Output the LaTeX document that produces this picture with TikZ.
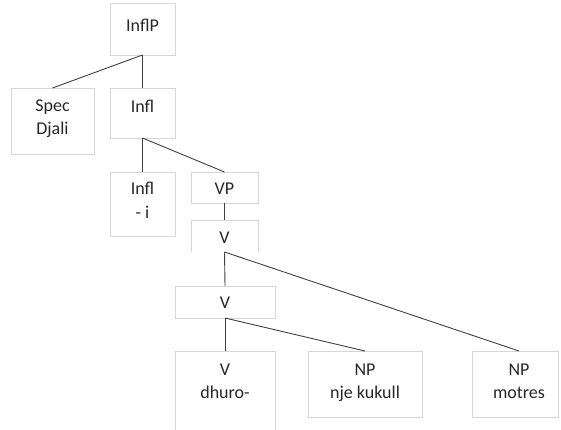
\documentclass[tikz,border=0pt]{standalone}
\usepackage{fontspec}
\setmainfont{Carlito}
\definecolor{boxgray}{HTML}{D6D6D6}
\definecolor{linegray}{HTML}{404040}
\definecolor{txt}{HTML}{262626}
\begin{document}
\begin{tikzpicture}[x=1pt,y=-1pt,
  treebox/.style={draw=boxgray,line width=0.8pt,anchor=north west,inner sep=0pt,outer sep=0pt},
  lbl/.style={anchor=base,align=center,inner sep=0pt,text=txt,font=\fontsize{18}{23}\selectfont},
  edge/.style={draw=linegray,line width=0.9pt}]
\useasboundingbox (0,0) rectangle (561,430);
% boxes
\node[treebox,minimum width=65pt,minimum height=52pt] (inflp) at (110,3) {};
\node[treebox,minimum width=83pt,minimum height=66pt] (spec) at (11,88) {};
\node[treebox,minimum width=65pt,minimum height=50pt] (infl) at (110,88) {};
\node[treebox,minimum width=65pt,minimum height=64pt] (infli) at (110,172) {};
\node[treebox,minimum width=67pt,minimum height=31pt] (vp) at (191,172) {};
\node[anchor=north west,inner sep=0pt,outer sep=0pt,minimum width=67pt,minimum height=32pt] (vone) at (191,220) {};
\draw[boxgray,line width=0.8pt] (vone.south west) -- (vone.north west) -- (vone.north east) -- (vone.south east);
\node[treebox,minimum width=100pt,minimum height=32pt] (vtwo) at (175,286) {};
\node[treebox,minimum width=100pt,minimum height=90pt] (vdh) at (175,351) {};
\node[treebox,minimum width=114pt,minimum height=66pt] (npk) at (308,351) {};
\node[treebox,minimum width=86pt,minimum height=66pt] (npm) at (472,351) {};
% labels (base anchor = baseline of the last line)
\node[lbl] (tinflp) at (142.5,32) {InflP};
\node[lbl] (tspec) at (52.5,135) {Spec\\Djali};
\node[lbl] (tinfl) at (142.5,113) {Infl};
\node[lbl] (tinfli) at (142.5,218) {Infl\\- i};
\node[lbl] (tvp) at (224.5,195) {VP};
\node[lbl] (tvone) at (224.5,243) {V};
\node[lbl] (tvtwo) at (225,308) {V};
\node[lbl] (tvdh) at (225,398) {V\\dhuro-};
\node[lbl] (tnpk) at (365,398) {NP\\nje kukull};
\node[lbl] (tnpm) at (519,398) {NP\\motres};
% connectors
\draw[edge] (inflp.south) -- (spec.north);
\draw[edge] (inflp.south) -- (infl.north);
\draw[edge] (infl.south) -- (infli.north);
\draw[edge] (infl.south) -- (vp.north);
\draw[edge] (vp.south) -- (vone.north);
\draw[edge] (vone.south) -- (vtwo.north);
\draw[edge] (vone.south) -- ([xshift=4pt]npm.north);
\draw[edge] (vtwo.south) -- (vdh.north);
\draw[edge] (vtwo.south) -- (npk.north);
\end{tikzpicture}
\end{document}
